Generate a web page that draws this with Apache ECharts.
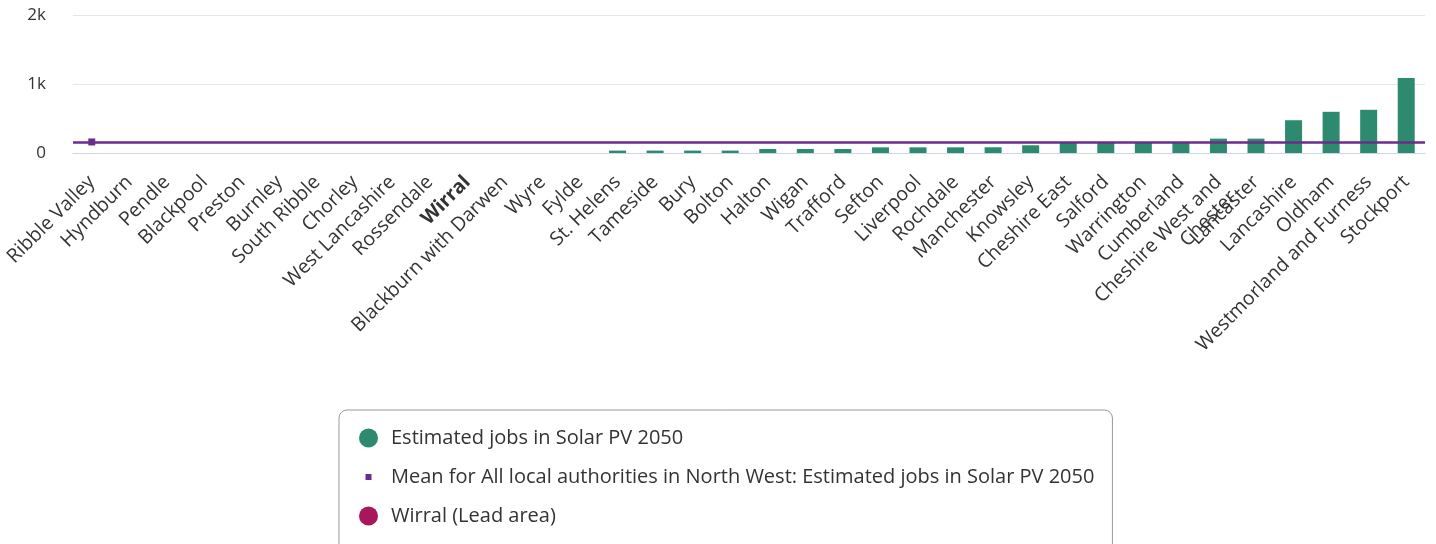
<!DOCTYPE html>
<html>
<head>
<meta charset="utf-8">
<title>Estimated jobs in Solar PV 2050</title>
<script src="https://cdn.jsdelivr.net/npm/echarts@6/dist/echarts.min.js"></script>
<style>
  html, body { margin: 0; padding: 0; background: #ffffff; }
  #chart { width: 1436px; height: 544px; }
</style>
</head>
<body>
<div id="chart"></div>
<script>
// Local authorities in the North West, sorted by estimated Solar PV jobs
const areas = [
  'Ribble Valley', 'Hyndburn', 'Pendle', 'Blackpool', 'Preston', 'Burnley',
  'South Ribble', 'Chorley', 'West Lancashire', 'Rossendale', 'Wirral',
  'Blackburn with Darwen', 'Wyre', 'Fylde', 'St. Helens', 'Tameside', 'Bury',
  'Bolton', 'Halton', 'Wigan', 'Trafford', 'Sefton', 'Liverpool', 'Rochdale',
  'Manchester', 'Knowsley', 'Cheshire East', 'Salford', 'Warrington',
  'Cumberland', 'Cheshire West and Chester', 'Lancaster', 'Lancashire',
  'Oldham', 'Westmorland and Furness', 'Stockport'
];

// Estimated jobs in Solar PV 2050
const jobs = [
  0, 0, 0, 0, 0, 0,
  0, 0, 0, 0, 0,
  0, 0, 0, 35, 35, 35,
  35, 58, 58, 58, 82, 82, 82,
  83, 112, 150, 152, 155,
  155, 208, 208, 475,
  597, 626, 1086
];

// Regional mean across all local authorities
const meanValue = 160;

const leadArea = 'Wirral';

const seriesNames = {
  jobs: 'Estimated jobs in Solar PV 2050',
  mean: 'Mean for All local authorities in North West: Estimated jobs in Solar PV 2050',
  lead: 'Wirral (Lead area)'
};

const yTicks = { min: 0, max: 2000, interval: 1000 };

const colors = {
  jobs: '#2e8a6e',
  mean: '#6b2c8c',
  lead: '#a8175a'
};

const leadIndex = areas.indexOf(leadArea);
const leadData = areas.map((a, i) => (i === leadIndex ? jobs[i] : '-'));
const meanData = areas.map((a, i) => (i === 0 ? meanValue : '-'));

// Long names wrap onto a second line; a blank leading line keeps the first
// line on the tick, so the wrapped part hangs below it.
function wrapLabel(v) {
  if (v === 'Cheshire West and Chester') return ' \nCheshire West and\nChester';
  return v;
}

const chart = echarts.init(document.getElementById('chart'), null, { renderer: 'canvas' });

const font = '"Open Sans", "DejaVu Sans", sans-serif';

chart.setOption({
  animation: false,
  textStyle: { fontFamily: font },
  grid: { left: 73, right: 11, top: 15, bottom: 391, containLabel: false },
  xAxis: {
    type: 'category',
    data: areas,
    axisLine: { show: true, lineStyle: { color: '#ccd6eb', width: 1 } },
    axisTick: { show: false },
    axisLabel: {
      interval: 0,
      rotate: 45,
      margin: 26,
      fontSize: 19.5,
      lineHeight: 21,
      color: '#333333',
      fontFamily: font,
      formatter: v => (v === leadArea ? '{b|' + v + '}' : wrapLabel(v)),
      rich: { b: { fontWeight: 'bold', fontSize: 19.5, color: '#333333', fontFamily: font } }
    },
    splitLine: { show: false }
  },
  yAxis: {
    type: 'value',
    min: yTicks.min,
    max: yTicks.max,
    interval: yTicks.interval,
    axisLine: { show: false },
    axisTick: { show: false },
    axisLabel: {
      margin: 27,
      fontSize: 17,
      color: '#333333',
      fontFamily: font,
      formatter: v => (v === 0 ? '0' : v / 1000 + 'k')
    },
    splitLine: { lineStyle: { color: '#e6e6e6', width: 1 } }
  },
  legend: {
    orient: 'vertical',
    left: 339,
    top: 410,
    height: 100,
    padding: [18, 18, 34, 20],
    itemGap: 19,
    itemWidth: 19,
    itemHeight: 19,
    borderColor: '#999999',
    borderWidth: 1,
    borderRadius: 8,
    textStyle: { fontSize: 20, lineHeight: 19, color: '#333333', fontFamily: font, padding: [0, 0, 0, 8] },
    data: [
      { name: seriesNames.jobs, icon: 'circle', itemStyle: { color: colors.jobs } },
      { name: seriesNames.mean, icon: 'path://M0,0 M19,19 M6.5,6.5 L12.5,6.5 L12.5,12.5 L6.5,12.5 Z', itemStyle: { color: colors.mean } },
      { name: seriesNames.lead, icon: 'circle', itemStyle: { color: colors.lead } }
    ]
  },
  series: [
    {
      name: seriesNames.jobs,
      type: 'bar',
      data: jobs,
      barWidth: 17,
      itemStyle: { color: colors.jobs },
      z: 2
    },
    {
      name: seriesNames.lead,
      type: 'bar',
      data: leadData,
      barWidth: 17,
      barGap: '-100%',
      itemStyle: { color: colors.lead },
      z: 3
    },
    {
      name: seriesNames.mean,
      type: 'line',
      data: meanData,
      symbol: 'rect',
      symbolSize: 7,
      itemStyle: { color: colors.mean },
      lineStyle: { width: 0 },
      z: 5,
      markLine: {
        silent: true,
        symbol: ['none', 'none'],
        label: { show: false },
        lineStyle: { color: colors.mean, width: 2.5, type: 'solid' },
        emphasis: { disabled: true },
        data: [{ yAxis: meanValue }]
      }
    }
  ]
});
</script>
</body>
</html>
